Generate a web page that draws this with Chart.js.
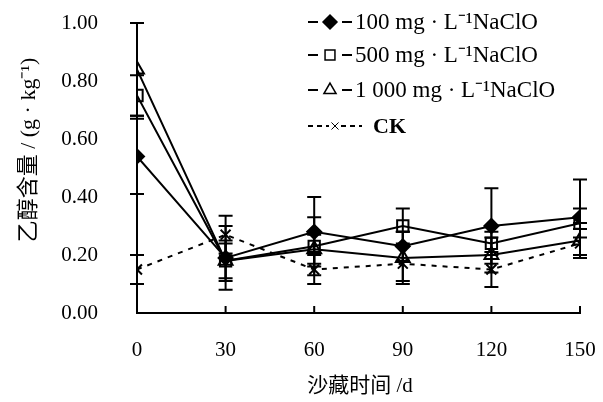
<!DOCTYPE html>
<html>
<head>
<meta charset="utf-8">
<script src="https://cdn.jsdelivr.net/npm/chart.js@4.4.0/dist/chart.umd.min.js"></script>
<style>
  html, body { margin: 0; padding: 0; background: #fff; }
  #wrap { width: 603px; height: 402px; }
</style>
</head>
<body>
<div id="wrap"><canvas id="chart" width="603" height="402"></canvas></div>
<script>
const days = [0, 30, 60, 90, 120, 150];
const yTicks = [0, 0.2, 0.4, 0.6, 0.8, 1.0];

const naclo100 = [0.54, 0.19, 0.28, 0.23, 0.30, 0.33];
const naclo100Err = [0.13, 0.11, 0.12, 0.05, 0.13, 0.13];
const naclo500 = [0.75, 0.18, 0.23, 0.30, 0.24, 0.31];
const naclo500Err = [0.07, 0.07, 0.10, 0.06, 0.04, 0.05];
const naclo1000 = [0.84, 0.18, 0.22, 0.19, 0.20, 0.25];
const naclo1000Err = [0.16, 0.06, 0.05, 0.09, 0.06, 0.06];
const ckValues = [0.15, 0.27, 0.15, 0.17, 0.15, 0.24];
const ckErr = [0.05, 0.065, 0.05, 0.06, 0.06, 0.05];

const seriesLabels = ["100 mg · L⁻¹NaClO", "500 mg · L⁻¹NaClO", "1 000 mg · L⁻¹NaClO", "CK"];
const xTitle = "沙藏时间 /d";
const yTitle = "乙醇含量 / (g · kg⁻¹)";

const SERIF = "'Liberation Serif', 'Noto Sans CJK SC', serif";

function toPoints(values) {
  return days.map((day, i) => ({ x: day, y: values[i] }));
}

function makeDataset(label, values, errors, style) {
  return {
    label,
    data: toPoints(values),
    errors,
    open: style.open,
    borderColor: "#000",
    borderWidth: 2,
    borderDash: style.dash || [],
    pointStyle: style.pointStyle,
    pointRadius: style.radius,
    pointBorderWidth: 2,
    pointBorderColor: "#000",
    pointBackgroundColor: style.open ? "rgba(0,0,0,0)" : "#000",
    tension: 0,
    fill: false
  };
}

const datasets = [
  makeDataset(seriesLabels[0], naclo100, naclo100Err, { pointStyle: "rectRot", radius: 7, open: false }),
  makeDataset(seriesLabels[1], naclo500, naclo500Err, { pointStyle: "rect", radius: 8, open: true }),
  makeDataset(seriesLabels[2], naclo1000, naclo1000Err, { pointStyle: "triangle", radius: 8, open: true }),
  makeDataset(seriesLabels[3], ckValues, ckErr, { pointStyle: "crossRot", radius: 7, open: false, dash: [5, 6] })
];

// vertical error bars drawn under the markers
const errorBars = {
  id: "errorBars",
  beforeDatasetsDraw(chart) {
    const ctx = chart.ctx;
    const yScale = chart.scales.y;
    ctx.save();
    ctx.strokeStyle = "#000";
    ctx.lineWidth = 2;
    chart.data.datasets.forEach((ds, di) => {
      const meta = chart.getDatasetMeta(di);
      meta.data.forEach((pt, i) => {
        const v = ds.data[i].y;
        const e = ds.errors[i];
        const top = yScale.getPixelForValue(v + e);
        const bottom = yScale.getPixelForValue(v - e);
        ctx.beginPath();
        ctx.moveTo(pt.x, top);
        ctx.lineTo(pt.x, bottom);
        ctx.moveTo(pt.x - 7, top);
        ctx.lineTo(pt.x + 7, top);
        ctx.moveTo(pt.x - 7, bottom);
        ctx.lineTo(pt.x + 7, bottom);
        ctx.stroke();
      });
    });
    ctx.restore();
  }
};

// inward tick marks on the x axis
const innerTicks = {
  id: "innerTicks",
  afterDraw(chart) {
    const ctx = chart.ctx;
    const xScale = chart.scales.x;
    const base = chart.chartArea.bottom;
    ctx.save();
    ctx.strokeStyle = "#000";
    ctx.lineWidth = 2;
    days.forEach((d) => {
      const x = xScale.getPixelForValue(d);
      ctx.beginPath();
      ctx.moveTo(x, base);
      ctx.lineTo(x, base - 7);
      ctx.stroke();
    });
    ctx.restore();
  }
};

const legendAndTitles = {
  id: "legendAndTitles",
  afterDraw(chart) {
    const ctx = chart.ctx;
    ctx.save();
    ctx.strokeStyle = "#000";

    const rowsY = [22, 55, 90, 126];
    chart.data.datasets.forEach((ds, i) => {
      const y = rowsY[i];
      const isCk = i === 3;
      ctx.lineWidth = 2;
      ctx.setLineDash(isCk ? [5, 4] : []);
      ctx.beginPath();
      if (isCk) {
        ctx.moveTo(308, y);
        ctx.lineTo(329, y);
        ctx.moveTo(341, y);
        ctx.lineTo(362, y);
      } else {
        ctx.moveTo(308, y);
        ctx.lineTo(318, y);
        ctx.moveTo(342, y);
        ctx.lineTo(352, y);
      }
      ctx.stroke();
      ctx.setLineDash([]);
      ctx.fillStyle = ds.open ? "rgba(0,0,0,0)" : "#000";
      ctx.lineWidth = isCk ? 1 : 1.5;
      Chart.helpers.drawPoint(ctx, {
        pointStyle: ds.pointStyle,
        radius: isCk ? 5 : 7,
        borderWidth: isCk ? 1 : 1.5,
        rotation: 0
      }, isCk ? 335 : 330, y);
      ctx.fillStyle = "#000";
      ctx.font = isCk ? "bold 22px " + SERIF : "23px " + SERIF;
      ctx.textBaseline = "middle";
      ctx.textAlign = "left";
      ctx.fillText(ds.label, isCk ? 373 : 355, y + 1);
    });

    ctx.fillStyle = "#000";
    ctx.font = "21px " + SERIF;
    ctx.textAlign = "center";
    ctx.textBaseline = "middle";
    ctx.fillText(xTitle, 360, 386);

    ctx.font = "22px " + SERIF;
    ctx.translate(29, 150);
    ctx.rotate(-Math.PI / 2);
    ctx.fillText(yTitle, 0, 0);
    ctx.restore();
  }
};

// invisible tick marks push the labels away from the axes
const hiddenTicks = {
  display: true,
  drawOnChartArea: false,
  drawTicks: true,
  color: "rgba(0,0,0,0)"
};

new Chart(document.getElementById("chart"), {
  type: "line",
  data: { datasets },
  options: {
    responsive: false,
    animation: false,
    layout: { padding: { left: 0, right: 23, top: 23, bottom: 0 } },
    plugins: {
      legend: { display: false },
      tooltip: { enabled: false }
    },
    scales: {
      x: {
        type: "linear",
        min: 0,
        max: 150,
        afterFit(scale) { scale.height = 89; },
        afterBuildTicks(scale) { scale.ticks = days.map((v) => ({ value: v })); },
        grid: { ...hiddenTicks, tickLength: 23 },
        border: { display: true, color: "#000", width: 2 },
        ticks: {
          color: "#000",
          padding: 2,
          font: { family: SERIF, size: 21 }
        }
      },
      y: {
        min: 0,
        max: 1,
        afterFit(scale) { scale.width = 137; },
        afterBuildTicks(scale) { scale.ticks = yTicks.map((v) => ({ value: v })); },
        grid: { ...hiddenTicks, tickLength: 37 },
        border: { display: true, color: "#000", width: 2 },
        ticks: {
          color: "#000",
          padding: 2,
          font: { family: SERIF, size: 21 },
          callback(value) { return Number(value).toFixed(2); }
        }
      }
    }
  },
  plugins: [errorBars, innerTicks, legendAndTitles]
});
</script>
</body>
</html>
